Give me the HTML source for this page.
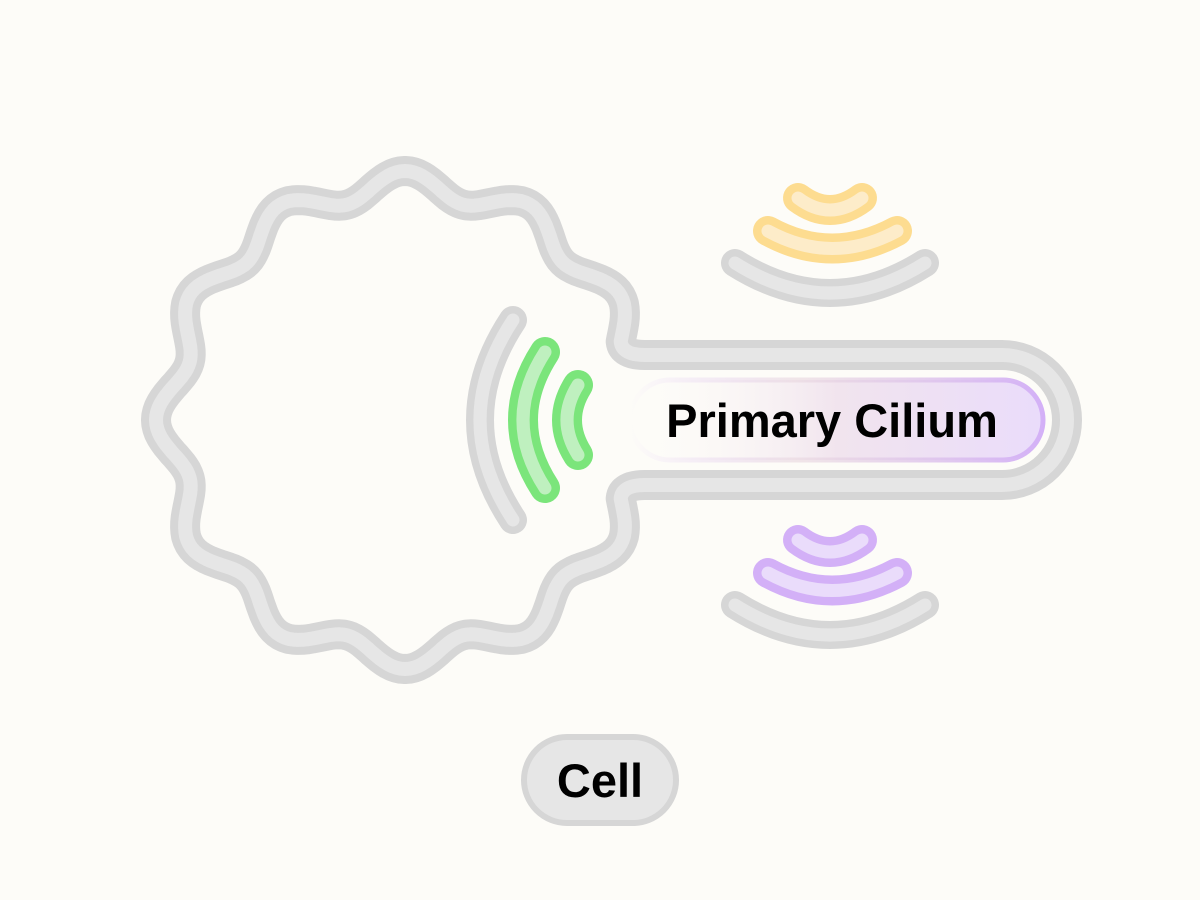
<!DOCTYPE html>
<html><head><meta charset="utf-8"><style>
html,body{margin:0;padding:0;background:#fdfcf8;}
svg{display:block}
text{font-family:"Liberation Sans",sans-serif;font-weight:bold;}
</style></head><body>
<svg width="1200" height="900" viewBox="0 0 1200 900" xmlns="http://www.w3.org/2000/svg">
<defs>
<linearGradient id="pg" x1="630" y1="0" x2="1045" y2="0" gradientUnits="userSpaceOnUse">
<stop offset="0" stop-color="#fdfcf8" stop-opacity="0"/>
<stop offset="0.5" stop-color="#f1e4ee"/>
<stop offset="1" stop-color="#eadcfb"/>
</linearGradient>
<linearGradient id="pb" x1="630" y1="0" x2="1045" y2="0" gradientUnits="userSpaceOnUse">
<stop offset="0" stop-color="#d3b0f7" stop-opacity="0"/>
<stop offset="0.4" stop-color="#e8d6de" stop-opacity="0.6"/>
<stop offset="1" stop-color="#d3b0f7"/>
</linearGradient>
</defs>
<g id="cell" fill="none" stroke-linecap="round" stroke-linejoin="round">
<path id="cp1" stroke="#d6d6d6" stroke-width="30" d=""/>
<path id="cp2" stroke="#e6e6e6" stroke-width="14" d=""/>
</g>
<rect x="630" y="380" width="413" height="80" rx="40" fill="url(#pg)" stroke="url(#pb)" stroke-width="5"/>
<text x="832" y="437" font-size="47" text-anchor="middle" fill="#000">Primary Cilium</text>
<g fill="none" stroke-linecap="round">
<path d="M513 320 Q447 420 513 520" stroke="#d6d6d6" stroke-width="28"/>
<path d="M513 320 Q447 420 513 520" stroke="#e6e6e6" stroke-width="13"/>
<path d="M545 352 Q501 420 545 488" stroke="#7be57b" stroke-width="30"/>
<path d="M545 352 Q501 420 545 488" stroke="#bff0bf" stroke-width="13"/>
<path d="M578 385 Q556 420 578 455" stroke="#7be57b" stroke-width="30"/>
<path d="M578 385 Q556 420 578 455" stroke="#bff0bf" stroke-width="13"/>
<path d="M735 263 Q830 323 925 263" stroke="#d6d6d6" stroke-width="28"/>
<path d="M735 263 Q830 323 925 263" stroke="#e6e6e6" stroke-width="13"/>
<path d="M768 231 Q832 266 897 231" stroke="#fddc90" stroke-width="30"/>
<path d="M768 231 Q832 266 897 231" stroke="#fdecc9" stroke-width="13"/>
<path d="M798 198 Q830 222 862 198" stroke="#fddc90" stroke-width="30"/>
<path d="M798 198 Q830 222 862 198" stroke="#fdecc9" stroke-width="13"/>
<path d="M735 605 Q830 665 925 605" stroke="#d6d6d6" stroke-width="28"/>
<path d="M735 605 Q830 665 925 605" stroke="#e6e6e6" stroke-width="13"/>
<path d="M768 573 Q832 608 897 573" stroke="#d3b0f7" stroke-width="30"/>
<path d="M768 573 Q832 608 897 573" stroke="#eadcfb" stroke-width="13"/>
<path d="M798 540 Q830 564 862 540" stroke="#d3b0f7" stroke-width="30"/>
<path d="M798 540 Q830 564 862 540" stroke="#eadcfb" stroke-width="13"/>
</g>
<rect x="524" y="737" width="152" height="86" rx="43" fill="#e6e6e6" stroke="#d6d6d6" stroke-width="6"/>
<text x="600" y="797" font-size="47" text-anchor="middle" fill="#000">Cell</text>
</svg>
<script>
(function(){
var cx=405,cy=420;
function P(t){var a=t*Math.PI/180,r=236+13*Math.cos(12*a);return [cx+r*Math.cos(a),cy+r*Math.sin(a)];}
var d="M1002 485 L645 485 Q622 485 ";
var s=P(20);d+=s[0].toFixed(1)+" "+s[1].toFixed(1)+" ";
for(var t=20;t<=340;t+=1){var p=P(t);d+="L"+p[0].toFixed(1)+" "+p[1].toFixed(1)+" ";}
d+="Q622 355 645 355 L1002 355 A65 65 0 0 1 1002 485 Z";
document.getElementById("cp1").setAttribute("d",d);
document.getElementById("cp2").setAttribute("d",d);
})();
</script>
</body></html>
